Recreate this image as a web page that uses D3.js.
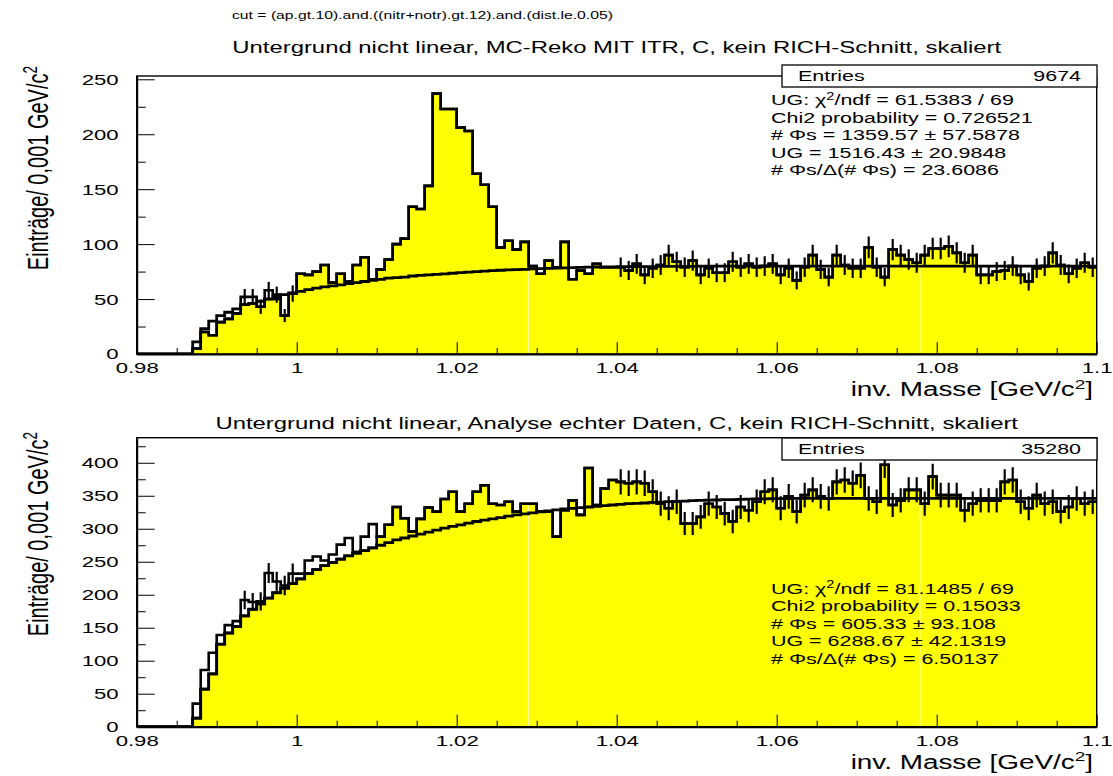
<!DOCTYPE html>
<html>
<head>
<meta charset="utf-8">
<script src="https://cdn.jsdelivr.net/npm/d3@7"></script>
<style>
  html, body { margin: 0; padding: 0; background: #fff; }
  svg { display: block; font-family: "Liberation Sans", Arial, Helvetica, sans-serif; }
</style>
</head>
<body>
<svg id="chart" width="1113" height="776"></svg>
<script>
// ---- binning: 120 bins of 0.001 GeV/c^2 from 0.98 to 1.1 ----
const xMin = 0.98, xMax = 1.1, binWidth = 0.001;
const xTickValues = [0.98, 1.0, 1.02, 1.04, 1.06, 1.08, 1.1];
const xTickLabels = ["0.98", "1", "1.02", "1.04", "1.06", "1.08", "1.1"];
const topYTicks = [0, 50, 100, 150, 200, 250];
const botYTicks = [0, 50, 100, 150, 200, 250, 300, 350, 400];
// bins with error bars (side bands used for the background fit)
const fitRanges = [[0.993, 0.999], [1.04, 1.1]];
// polygon seams of the yellow fill
const fillSeams = [1.02895, 1.07791];

// ---- MC reconstruction (top) ----
const topData = [
  0, 0, 0, 0, 0, 0, 0,
  5, 20, 17, 29, 32, 37,
  52, 52, 43, 58, 54, 35,
  55, 73, 72, 75, 81, 65, 73, 66, 81, 88, 68,
  77, 86, 100, 105, 134, 132, 153, 237, 223, 223,
  206, 203, 164, 154, 134, 97, 103, 95, 102, 80,
  73, 85, 79, 102, 68, 76, 73, 82, 79, 79,
  79, 76, 82, 72, 78, 81, 90, 84, 79, 85,
  72, 78, 74, 74, 84, 79, 82, 79, 80, 82,
  72, 78, 67, 79, 90, 77, 70, 90, 81, 78,
  78, 97, 79, 70, 95, 90, 86, 83, 90, 96,
  96, 98, 92, 83, 90, 72, 72, 75, 76, 80,
  72, 66, 78, 80, 92, 81, 73, 78, 83, 79
];
const topFilled = [
  0, 0, 0, 0, 0, 0, 0,
  5, 20, 17, 29, 32, 37,
  45, 46, 43, 50, 50, 35,
  55, 73, 72, 75, 81, 65, 73, 66, 81, 88, 68,
  77, 86, 100, 105, 134, 132, 153, 237, 223, 223,
  206, 203, 164, 154, 134, 97, 103, 95, 102, 80,
  73, 85, 79, 102, 68, 76, 73, 82, 79, 79,
  79, 76, 82, 72, 78, 81, 90, 84, 79, 85,
  72, 78, 74, 74, 84, 79, 82, 79, 80, 82,
  72, 78, 67, 79, 90, 77, 70, 90, 81, 78,
  78, 97, 79, 70, 95, 90, 86, 83, 90, 96,
  96, 98, 92, 83, 90, 72, 72, 75, 76, 80,
  72, 66, 78, 80, 92, 81, 73, 78, 83, 79
];
const topBackground = [
  0, 0, 0, 0, 0, 0, 0,
  11, 23, 30, 35, 38, 41,
  45, 46, 48, 50, 52, 54,
  55.5, 57, 58.5, 60, 61, 62, 63, 64, 65, 66, 67,
  68, 69, 69.5, 70, 71, 71.5, 72, 72.5, 73, 73.5,
  74, 74.5, 75, 75.4, 75.8, 76.2, 76.5, 76.8, 77.1, 77.4,
  77.7, 78, 78.2, 78.4, 78.6, 78.8, 79, 79.1, 79.2, 79.3,
  79.4, 79.5, 79.5, 79.6, 79.6, 79.7, 79.7, 79.8, 79.8, 79.8,
  79.9, 79.9, 79.9, 79.9, 79.9, 79.9, 79.9, 79.9, 79.9, 79.9,
  80, 80, 80, 80, 80, 80, 80, 80, 80, 80,
  80, 80, 80, 80, 80, 80, 80, 80, 80, 80,
  80, 80, 80, 80, 80, 80, 80, 80, 80, 80,
  80, 80, 80, 80, 80, 80, 80, 80, 80, 80
];

// ---- real data (bottom) ----
const botData = [
  0, 0, 0, 0, 0, 0, 0,
  35, 86, 112, 139, 154, 160,
  192, 189, 190, 233, 220, 214,
  232, 232, 252, 258, 252, 261, 276, 286, 265, 288, 307,
  288, 306, 333, 316, 296, 315, 332, 326, 345, 356,
  326, 338, 356, 366, 338, 336, 341, 326, 338, 338,
  326, 326, 288, 328, 343, 321, 392, 336, 361, 374,
  371, 369, 371, 369, 356, 338, 331, 341, 308, 308,
  318, 338, 333, 323, 311, 333, 328, 341, 356, 359,
  331, 349, 326, 351, 359, 349, 346, 371, 374, 369,
  381, 346, 341, 397, 336, 343, 359, 359, 338, 379,
  351, 351, 351, 328, 338, 343, 343, 343, 371, 374,
  341, 331, 351, 338, 341, 326, 333, 346, 338, 341
];
const botFilled = [
  0, 0, 0, 0, 0, 0, 0,
  13, 57, 80, 125, 142, 152,
  168, 178, 186, 195, 203, 210,
  217, 224, 232, 238, 244, 249, 254, 259, 263, 267, 271,
  288, 306, 333, 316, 296, 315, 332, 326, 345, 356,
  326, 338, 356, 366, 338, 336, 341, 326, 338, 338,
  326, 326, 288, 328, 343, 321, 392, 336, 361, 374,
  371, 369, 371, 369, 356, 338, 331, 341, 308, 308,
  318, 338, 333, 323, 311, 333, 328, 341, 356, 359,
  331, 349, 326, 351, 359, 349, 346, 371, 374, 369,
  381, 346, 341, 397, 336, 343, 359, 359, 338, 379,
  351, 351, 351, 328, 338, 343, 343, 343, 371, 374,
  341, 331, 351, 338, 341, 326, 333, 346, 338, 341
];
const botBackground = [
  0, 0, 0, 0, 0, 0, 0,
  13, 57, 80, 125, 142, 152,
  168, 178, 186, 195, 203, 210,
  217, 224, 232, 238, 244, 249, 254, 259, 263, 267, 271,
  275, 279, 283, 286, 289, 292, 295, 298, 301, 303.5,
  306, 308.5, 311, 313, 315, 317, 319, 321, 322.5, 324,
  325.5, 327, 328.5, 330, 331, 332, 333, 334, 335, 336,
  337, 338, 338.5, 339, 340, 340.5, 341, 341.5, 342, 342.5,
  343, 343.3, 343.6, 344, 344.3, 344.6, 345, 345.2, 345.4, 345.6,
  345.8, 345.8, 345.9, 345.9, 346, 346, 346, 346, 346, 346,
  346, 346, 346, 346, 346, 346, 346, 346, 346, 346,
  346, 346, 346, 346, 346, 346, 346, 346, 346, 346,
  346, 346, 346, 346, 346, 346, 346, 346, 346, 346
];

const cutText = "cut = (ap.gt.10).and.((nitr+notr).gt.12).and.(dist.le.0.05)";
const topTitle = "Untergrund nicht linear, MC-Reko MIT ITR, C, kein RICH-Schnitt, skaliert";
const botTitle = "Untergrund nicht linear, Analyse echter Daten, C, kein RICH-Schnitt, skaliert";
const topStats = [
  "UG: χ^{2}/ndf = 61.5383 / 69",
  "Chi2 probability = 0.726521",
  "# Φs = 1359.57 ± 57.5878",
  "UG = 1516.43 ± 20.9848",
  "# Φs/Δ(# Φs) = 23.6086"
];
const botStats = [
  "UG: χ^{2}/ndf = 81.1485 / 69",
  "Chi2 probability = 0.15033",
  "# Φs = 605.33 ± 93.108",
  "UG = 6288.67 ± 42.1319",
  "# Φs/Δ(# Φs) = 6.50137"
];
const topEntries = "9674", botEntries = "35280";
const xTitle = "inv. Masse [GeV/c^{2}]";
const yTitle = "Einträge/ 0,001 GeV/c^{2}";

// ---- drawing ----
const SX = 1.43;            // lettering is stretched horizontally
const YELLOW = "#ffff00";
const svg = d3.select("#chart");
svg.append("rect").attr("width", 1113).attr("height", 776).attr("fill", "#fff");

function stretched(parent, x, y, size, anchor) {
  return parent.append("text")
    .attr("transform", `translate(${x},${y}) scale(${SX},1)`)
    .attr("font-size", size)
    .attr("text-anchor", anchor || "start")
    .attr("fill", "#000");
}
// text with ^{...} superscripts
function rich(textSel, str) {
  const parts = str.split(/(\^\{[^}]*\})/);
  let raised = false;
  parts.forEach(p => {
    if (!p) return;
    const m = p.match(/^\^\{(.*)\}$/);
    if (m) {
      textSel.append("tspan").attr("font-size", "0.68em").attr("dy", "-0.55em").text(m[1]);
      raised = true;
    } else {
      const t = textSel.append("tspan").text(p);
      if (raised) { t.attr("dy", "0.374em"); raised = false; }
    }
  });
  return textSel;
}

stretched(svg, 232, 19, 11).text(cutText);

const x = d3.scaleLinear().domain([xMin, xMax]).range([136.7, 1096.7]);
const xMinor = d3.range(0.985, 1.1, 0.005).filter(v => !xTickValues.some(t => Math.abs(t - v) < 1e-6));

const panels = [
  { top: 76, bottom: 354, yMax: 253, yTicks: topYTicks,
    data: topData, filled: topFilled, bg: topBackground,
    title: topTitle, titleY: 53, stats: topStats, entries: topEntries,
    boxTop: 65, statsY: 100, yTitleEnd: 66 },
  { top: 437.7, bottom: 726.7, yMax: 438, yTicks: botYTicks,
    data: botData, filled: botFilled, bg: botBackground,
    title: botTitle, titleY: 429, stats: botStats, entries: botEntries,
    boxTop: 438, statsY: 588.3, yTitleEnd: 432 }
];

panels.forEach((p, pi) => {
  const y = d3.scaleLinear().domain([0, p.yMax]).range([p.bottom, p.top]);
  const g = svg.append("g");

  const clipId = "frame" + pi;
  g.append("clipPath").attr("id", clipId).append("rect")
    .attr("x", x(xMin)).attr("y", p.top)
    .attr("width", x(xMax) - x(xMin)).attr("height", p.bottom - p.top);
  const plot = g.append("g").attr("clip-path", `url(#${clipId})`);

  const steps = vals => vals.flatMap((v, i) => {
    const lo = xMin + i * binWidth;
    return [[lo, v], [lo + binWidth, v]];
  });

  // filled histogram
  const areaPath = d3.area().x(d => x(d[0])).y0(y(0)).y1(d => y(d[1]))(steps(p.filled));
  plot.append("path").attr("d", areaPath).attr("fill", YELLOW);
  const seamClip = "fill" + pi;
  g.append("clipPath").attr("id", seamClip).append("path").attr("d", areaPath);
  plot.append("g").attr("clip-path", `url(#${seamClip})`)
    .selectAll(null).data(fillSeams).enter().append("line")
    .attr("x1", d => x(d)).attr("x2", d => x(d))
    .attr("y1", p.top).attr("y2", p.bottom)
    .attr("stroke", "#ffffc0").attr("stroke-width", 1);

  const line = d3.line().x(d => x(d[0])).y(d => y(d[1]));
  plot.append("path").attr("d", line(steps(p.filled)))
    .attr("fill", "none").attr("stroke", "#000").attr("stroke-width", 2.6);
  plot.append("path").attr("d", line(steps(p.data)))
    .attr("fill", "none").attr("stroke", "#000").attr("stroke-width", 2.6);

  // error bars on the side-band bins
  const errBins = p.data.map((v, i) => ({ v, c: xMin + (i + 0.5) * binWidth }))
    .filter(d => fitRanges.some(r => d.c > r[0] - 1e-9 && d.c < r[1] + binWidth));
  plot.selectAll(null).data(errBins).enter().append("line")
    .attr("x1", d => x(d.c)).attr("x2", d => x(d.c))
    .attr("y1", d => y(d.v - Math.sqrt(d.v))).attr("y2", d => y(d.v + Math.sqrt(d.v)))
    .attr("stroke", "#000").attr("stroke-width", 2.2);

  // background fit, evaluated per bin
  plot.append("path").attr("d", line(steps(p.bg)))
    .attr("fill", "none").attr("stroke", "#000").attr("stroke-width", 2.8);

  // frame
  g.append("rect")
    .attr("x", x(xMin)).attr("y", p.top)
    .attr("width", x(xMax) - x(xMin)).attr("height", p.bottom - p.top)
    .attr("fill", "none").attr("stroke", "#000").attr("stroke-width", 1.4);

  // x axis
  const gx = g.append("g").attr("transform", `translate(0,${p.bottom})`);
  gx.call(d3.axisBottom(x).tickValues(xTickValues).tickFormat((d, i) => xTickLabels[i])
    .tickSizeInner(-12).tickSizeOuter(0).tickPadding(8));
  gx.select(".domain").attr("stroke-width", 2);
  gx.selectAll("text").attr("transform", `scale(${SX},1)`)
    .attr("font-size", 15.5).attr("font-family", null).attr("fill", "#000");
  const gxm = g.append("g").attr("transform", `translate(0,${p.bottom})`);
  gxm.call(d3.axisBottom(x).tickValues(xMinor).tickFormat("").tickSizeInner(-6).tickSizeOuter(0));
  gxm.select(".domain").remove();

  // y axis
  const gy = g.append("g").attr("transform", `translate(${x(xMin)},0)`);
  gy.call(d3.axisLeft(y).tickValues(p.yTicks).tickFormat(d3.format("d"))
    .tickSizeInner(-18).tickSizeOuter(0).tickPadding(12.6));
  gy.select(".domain").attr("stroke-width", 2);
  gy.selectAll("text").attr("transform", `scale(${SX},1)`)
    .attr("font-size", 15.5).attr("font-family", null).attr("fill", "#000");
  const yMinor = d3.range(25, p.yMax, 50);
  const gym = g.append("g").attr("transform", `translate(${x(xMin)},0)`);
  gym.call(d3.axisLeft(y).tickValues(yMinor).tickFormat("").tickSizeInner(-9).tickSizeOuter(0));
  gym.select(".domain").remove();
  g.selectAll(".tick line").attr("stroke", "#000");

  // axis titles
  rich(stretched(g, 1093, p.bottom + 42, 19.5, "end"), xTitle);
  rich(g.append("text")
    .attr("transform", `translate(48,${p.yTitleEnd}) scale(${SX},1) rotate(-90)`)
    .attr("text-anchor", "end").attr("font-size", 20), yTitle);

  // title
  stretched(g, (x(xMin) + x(xMax)) / 2, p.titleY, 16.7, "middle").text(p.title);

  // statistics box
  g.append("rect").attr("x", 782).attr("y", p.boxTop).attr("width", 315).attr("height", 22)
    .attr("fill", "#fff").attr("stroke", "#000").attr("stroke-width", 1.3);
  stretched(g, 798, p.boxTop + 16.4, 15).text("Entries");
  stretched(g, 1081, p.boxTop + 16.4, 15, "end").text(p.entries);
  p.stats.forEach((s, i) => rich(stretched(g, 771, p.statsY + 17.5 * i + 5.4, 15), s));
});
</script>
</body>
</html>
